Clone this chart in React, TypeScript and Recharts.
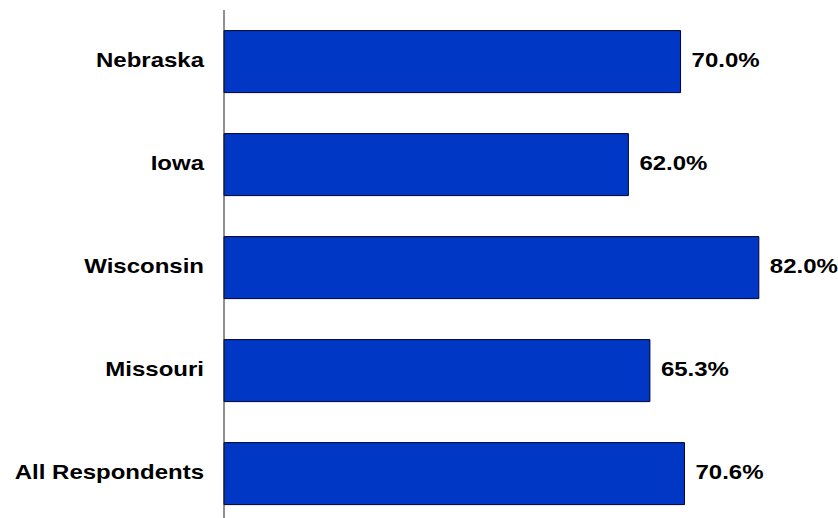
import React from 'react';
import { BarChart, Bar, XAxis, YAxis, LabelList } from 'recharts';

const regions = ['Nebraska', 'Iowa', 'Wisconsin', 'Missouri', 'All Respondents'];
const shares = [70.0, 62.0, 82.0, 65.3, 70.6];

const data = regions.map((name, i) => ({ name, value: shares[i] }));

const FONT = '"Liberation Sans", Arial, sans-serif';
const STRETCH = 1.2;

const StateTick = (props: any) => {
  const { x, y, payload } = props;
  return (
    <g transform={`translate(${x},${y}) scale(${STRETCH},1)`}>
      <text
        x={0}
        y={-1}
        textAnchor="end"
        dominantBaseline="central"
        fontFamily={FONT}
        fontWeight="bold"
        fontSize={20}
        fill="#000"
      >
        {payload.value}
      </text>
    </g>
  );
};

const ValueLabel = (props: any) => {
  const { x, y, width, height, value } = props;
  const lx = x + width + 11;
  const ly = y + height / 2;
  return (
    <g transform={`translate(${lx},${ly}) scale(${STRETCH},1)`}>
      <text
        x={0}
        y={-1}
        textAnchor="start"
        dominantBaseline="central"
        fontFamily={FONT}
        fontWeight="bold"
        fontSize={20}
        fill="#000"
      >
        {Number(value).toFixed(1) + '%'}
      </text>
    </g>
  );
};

export default function App() {
  return (
    <div
      style={{
        position: 'absolute',
        left: 0,
        top: 0,
        width: 838,
        height: 518,
        overflow: 'hidden',
        background: '#fff',
      }}
    >
      <BarChart
        width={838}
        height={525}
        data={data}
        layout="vertical"
        margin={{ top: 10, right: 27, bottom: 0, left: 0 }}
        barCategoryGap="20%"
      >
        <XAxis type="number" domain={[0, 90]} hide />
        <YAxis
          type="category"
          dataKey="name"
          width={224}
          axisLine={{ stroke: '#222', strokeWidth: 1 }}
          tickLine={false}
          tickMargin={14}
          tick={<StateTick />}
          interval={0}
        />
        <Bar
          dataKey="value"
          fill="#0037C4"
          stroke="#000033"
          strokeWidth={1}
          isAnimationActive={false}
        >
          <LabelList dataKey="value" content={<ValueLabel />} />
        </Bar>
      </BarChart>
    </div>
  );
}
